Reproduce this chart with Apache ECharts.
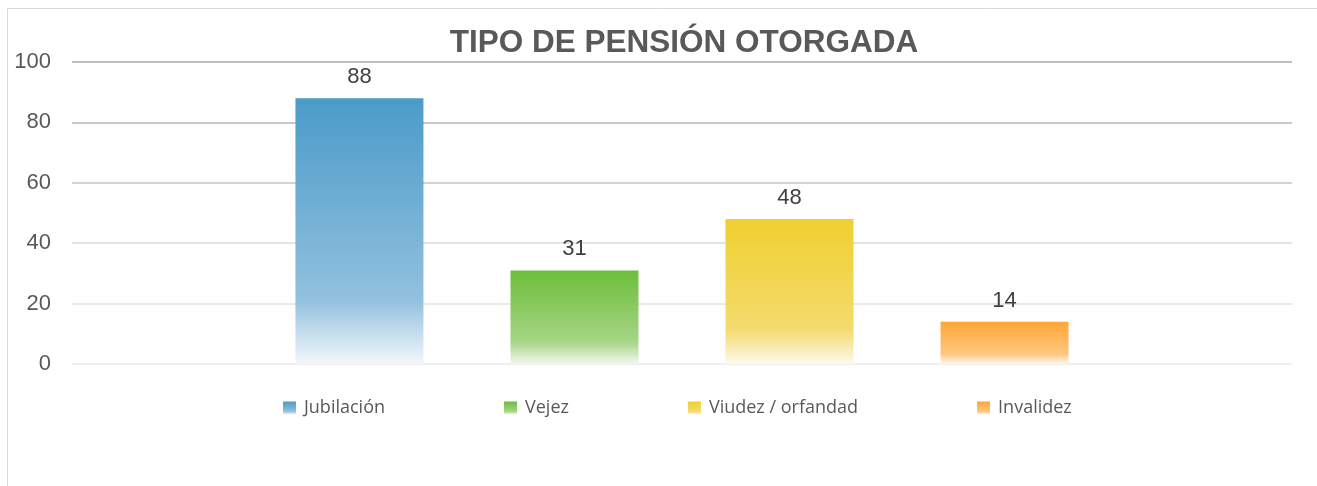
<!DOCTYPE html>
<html>
<head>
<meta charset="utf-8">
<title>Tipo de pensión otorgada</title>
<script src="https://cdn.jsdelivr.net/npm/echarts@6/dist/echarts.min.js"></script>
<style>
  html, body { margin: 0; padding: 0; background: #fff; }
  #chart { width: 1317px; height: 486px; }
</style>
</head>
<body>
<div id="chart"></div>
<script>
// datos
const seriesNames = ["Jubilación", "Vejez", "Viudez / orfandad", "Invalidez"];
const seriesValues = [88, 31, 48, 14];
const yTicks = [0, 20, 40, 60, 80, 100];
// colores: arriba, medio, abajo
const barTop = ["#4a9bc9", "#6dbe3a", "#f0cf30", "#ffa636"];
const barMid = ["#92c1de", "#a5d585", "#f4db6e", "#fec67f"];
const barEnd = ["#f3f7fb", "#f3f8f0", "#fdf9ec", "#fff6ec"];

function grad(i) {
  return new echarts.graphic.LinearGradient(0, 0, 0, 1, [
    { offset: 0, color: barTop[i] },
    { offset: 0.76, color: barMid[i] },
    { offset: 1, color: barEnd[i] },
  ]);
}

var dom = document.getElementById("chart");
var myChart = echarts.init(dom);

let series = [];
for (let i = 0; i < seriesNames.length; ++i) {
  series.push({
    name: seriesNames[i],
    type: "bar",
    data: [seriesValues[i]],
    barWidth: 128,
    barGap: "68%",
    itemStyle: { color: grad(i) },
    label: {
      show: true,
      position: "top",
      distance: 10,
      color: "#404040",
      fontSize: 22,
      fontFamily: "Liberation Sans, Arial, sans-serif",
    },
  });
}

var option = {
  animation: false,
  backgroundColor: "#fff",
  graphic: [
    {
      type: "rect",
      shape: { x: 7.5, y: 8.5, width: 1400, height: 600 },
      style: { fill: "none", stroke: "#d9d9d9", lineWidth: 1 },
      silent: true,
      z: -1,
    },
  ],
  title: {
    text: "TIPO DE PENSIÓN OTORGADA",
    left: 679,
    textAlign: "center",
    top: 22,
    textStyle: {
      fontSize: 31.5,
      fontWeight: "bold",
      color: "#595959",
      fontFamily: "Liberation Sans, Arial, sans-serif",
    },
  },
  legend: {
    data: seriesNames,
    bottom: 64,
    left: 278,
    itemWidth: 13,
    itemHeight: 13,
    itemGap: 119,
    icon: "rect",
    textStyle: {
      fontSize: 18,
      color: "#595959",
      fontFamily: "Open Sans, Noto Sans, sans-serif",
      padding: [0, 0, 0, 3],
    },
  },
  grid: {
    left: 72,
    right: 25,
    top: 62,
    bottom: 122,
  },
  xAxis: {
    type: "category",
    data: [""],
    axisLine: { show: false },
    axisTick: { show: false },
    axisLabel: { show: false },
  },
  yAxis: {
    type: "value",
    min: yTicks[0],
    max: yTicks[yTicks.length - 1],
    interval: 20,
    axisLine: { show: false },
    axisTick: { show: false },
    axisLabel: {
      color: "#595959",
      fontSize: 22,
      margin: 21,
      fontFamily: "Liberation Sans, Arial, sans-serif",
    },
    splitLine: {
      lineStyle: {
        color: ["#efefef", "#eaeaea", "#e4e4e4", "#d2d2d2", "#c9c9c9", "#bfbfbf"],
        width: 2,
      },
    },
  },
  series: series,
};

myChart.setOption(option, true);
</script>
</body>
</html>
